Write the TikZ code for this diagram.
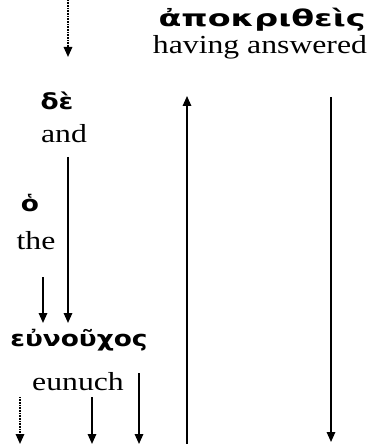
\documentclass[tikz,border=0pt]{standalone}
\usepackage{fontspec}
\setmainfont[FakeStretch=1.22]{Liberation Serif}
\newfontfamily\grk[FakeStretch=1.2]{DejaVu Sans}
\newfontfamily\grkwide[FakeStretch=1.45]{DejaVu Sans}
\usetikzlibrary{arrows.meta}
\begin{document}
\begin{tikzpicture}[x=1bp,y=-1bp,
  gk/.style={inner sep=0pt,anchor=base,font=\grk\bfseries\fontsize{22bp}{24bp}\selectfont},
  gkwide/.style={inner sep=0pt,anchor=base,font=\grkwide\bfseries\fontsize{23bp}{24bp}\selectfont},
  en/.style={inner sep=0pt,anchor=base,font=\fontsize{26bp}{28bp}\selectfont},
  arr/.style={line width=1.6bp,-{Triangle[length=10bp,width=8.5bp]}},
  dotarr/.style={arr,dash pattern=on 0.8bp off 0.8bp}]
\useasboundingbox (0,0) rectangle (373,444);
% words
\node[gkwide] (apokr) at (262,27) {ἀποκριθεὶς};
\node[en] (having) at (260,54) {having answered};
\node[gk] (de) at (57,110) {δὲ};
\node[en] (and) at (64,143) {and};
\node[gk] (ho) at (30,212) {ὁ};
\node[en] (the) at (36,249) {the};
\node[gk] (eunouchos) at (79,346) {εὐνοῦχος};
\node[en] (eunuch) at (78,390) {eunuch};
% connector ends
\coordinate (t0) at (68,0);
\coordinate (t1) at (68,57);
\coordinate (a0) at (68,157);
\coordinate (a1) at (68,323);
\coordinate (h0) at (43,277);
\coordinate (h1) at (43,323);
\coordinate (u0) at (187,444);
\coordinate (u1) at (187,96);
\coordinate (d0) at (331,97);
\coordinate (d1) at (331,442);
\coordinate (b1a) at (20,397);
\coordinate (b1b) at (20,444);
\coordinate (b2a) at (92,397);
\coordinate (b2b) at (92,444);
\coordinate (b3a) at (139,373);
\coordinate (b3b) at (139,444);
% connectors
\draw[dotarr] (t0) -- (t1);
\draw[arr] (a0) -- (a1);
\draw[arr] (h0) -- (h1);
\draw[arr] (u0) -- (u1);
\draw[arr] (d0) -- (d1);
\draw[dotarr] (b1a) -- (b1b);
\draw[arr] (b2a) -- (b2b);
\draw[arr] (b3a) -- (b3b);
\end{tikzpicture}
\end{document}
